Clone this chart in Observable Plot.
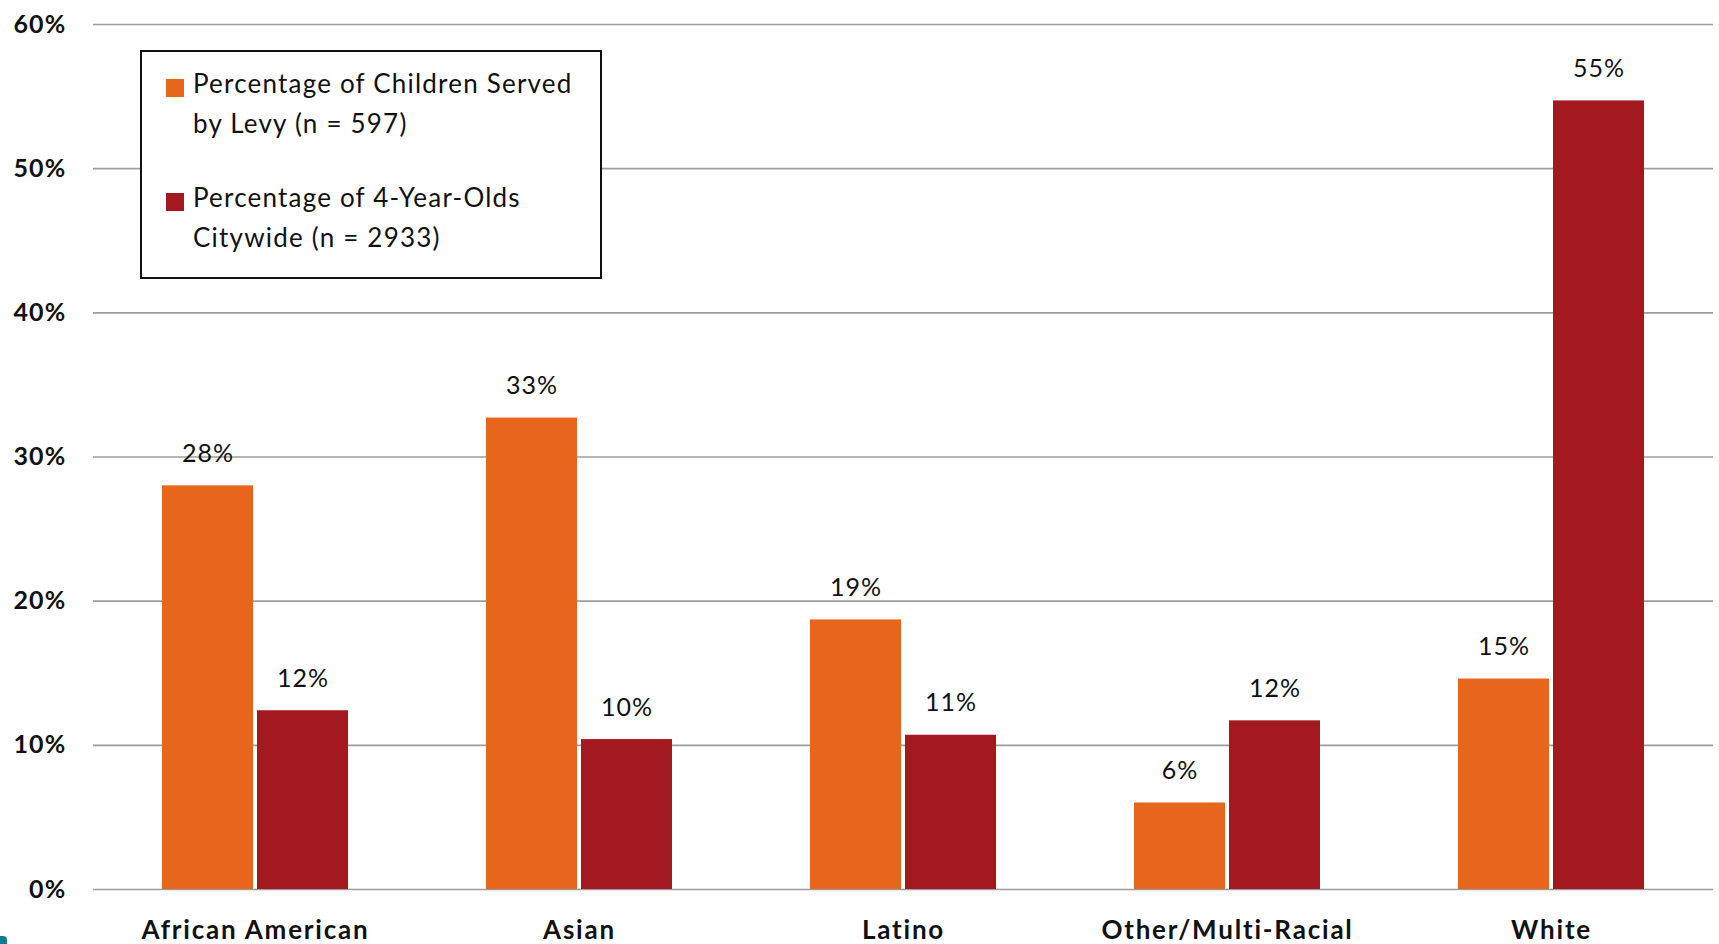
<!DOCTYPE html>
<html>
<head>
<meta charset="utf-8">
<script src="https://cdn.jsdelivr.net/npm/d3@7"></script>
<script src="https://cdn.jsdelivr.net/npm/@observablehq/plot@0.6"></script>
<style>
  html, body { margin: 0; padding: 0; background: #fff; overflow: hidden; }
  #chart { position: relative; width: 1719px; height: 944px; font-family: Lato, "Open Sans", sans-serif; }
  #chart svg { display: block; }
  #chart svg g[aria-label="y-axis tick label"] text { letter-spacing: 1.2px; }
  #chart svg g[aria-label="fx-axis tick label"] text { letter-spacing: 1.8px; }
  #chart svg g[aria-label="text"] text { letter-spacing: 1px; }
  .legend { position: absolute; left: 140px; top: 50px; width: 462px; height: 229px;
            box-sizing: border-box; border: 2px solid #111; background: #fff; }
  .legend .entry { position: absolute; left: 0; width: 458px; }
  .legend .swatch { position: absolute; left: 24px; top: 16px; width: 18px; height: 18px; }
  .legend .label { display: block; margin-left: 51px; width: 402px; font-size: 26px; line-height: 40px;
                   letter-spacing: 1.2px; color: #111; }
  .corner-mark { position: absolute; left: 0; top: 936px; width: 7px; height: 8px; background: #0f7d8c; border-top-right-radius: 4px; }
</style>
</head>
<body>
<div id="chart"></div>
<script>
// Ethnic groups along the horizontal axis
const categories = ["African American", "Asian", "Latino", "Other/Multi-Racial", "White"];

// Two series: children served by Levy vs. all 4-year-olds citywide
const seriesKeys = ["levy", "citywide"];
const seriesLabels = [
  "Percentage of Children Served by Levy (n = 597)",
  "Percentage of 4-Year-Olds Citywide (n = 2933)"
];
const seriesColors = ["#E8651E", "#A3191F"];

// Shares in percent, one value per category
const levyShare = [28.0, 32.7, 18.7, 6.0, 14.6];
const citywideShare = [12.4, 10.4, 10.7, 11.7, 54.7];

// Y axis ticks (percent)
const yTicks = [0, 10, 20, 30, 40, 50, 60];

const rows = categories.flatMap((category, i) => [
  {category, series: seriesKeys[0], value: levyShare[i]},
  {category, series: seriesKeys[1], value: citywideShare[i]}
]);

const pct = v => `${Math.round(v)}%`;
const gridColor = "#9d9d9d";

const chart = Plot.plot({
  width: 1719,
  height: 944,
  marginLeft: 92,
  marginRight: 5,
  marginTop: 24,
  marginBottom: 55,
  style: {fontFamily: "Lato, 'Open Sans', sans-serif", fontSize: "25px", color: "#111", background: "#fff"},
  fx: {domain: categories, paddingInner: 0, paddingOuter: 0, label: null},
  x: {domain: seriesKeys, paddingInner: 0.042, paddingOuter: 0.719, axis: null},
  y: {domain: [0, 60], label: null},
  color: {domain: seriesKeys, range: seriesColors},
  marks: [
    Plot.ruleY(yTicks, {stroke: gridColor, strokeWidth: 1.6}),
    Plot.barY(rows, {fx: "category", x: "series", y: "value", fill: "series"}),
    Plot.text(rows, {
      fx: "category", x: "series", y: "value",
      text: d => pct(d.value),
      lineAnchor: "bottom", dy: -24, fontSize: 25, fill: "#111"
    }),
    Plot.axisY(yTicks, {
      tickSize: 0, tickPadding: 27, tickFormat: d => `${d}%`,
      line: true, stroke: gridColor, strokeWidth: 1.6,
      fill: "#111", fontWeight: "bold", fontSize: 25, label: null
    }),
    Plot.axisFx({
      anchor: "bottom", tickSize: 0, tickPadding: 31,
      fill: "#111", fontWeight: "bold", fontSize: 26, label: null
    })
  ]
});

const root = document.getElementById("chart");
root.appendChild(chart);

// Legend drawn over the upper-left part of the plot area
const legend = d3.select(root).append("div").attr("class", "legend");
seriesLabels.forEach((label, i) => {
  const entry = legend.append("div").attr("class", "entry").style("top", `${11 + i * 114}px`);
  entry.append("span").attr("class", "swatch").style("background", seriesColors[i]);
  entry.append("span").attr("class", "label").text(label);
});

d3.select(root).append("div").attr("class", "corner-mark");
</script>
</body>
</html>
